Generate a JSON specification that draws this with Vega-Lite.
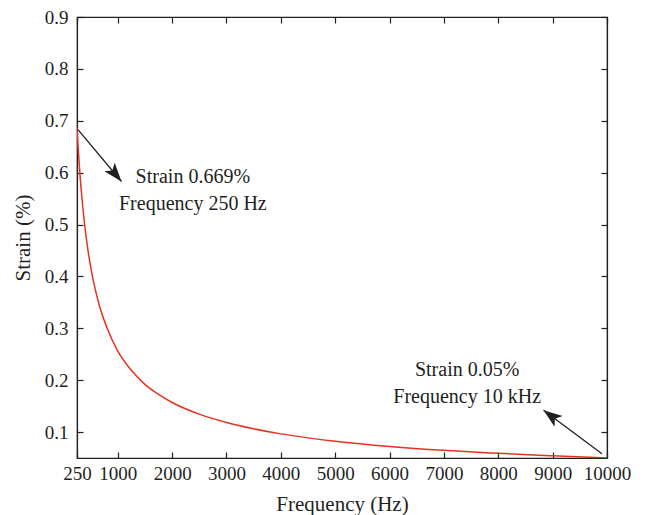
{
  "$schema": "https://vega.github.io/schema/vega-lite/v6.json",
  "autosize": "none",
  "padding": {"left": 77, "top": 17, "right": 38, "bottom": 57},
  "width": 530,
  "height": 441,
  "background": "white",
  "config": {
    "view": {"stroke": "#231f20", "strokeWidth": 1.2},
    "font": "Liberation Serif",
    "axis": {
      "labelFont": "Liberation Serif",
      "titleFont": "Liberation Serif",
      "labelFontSize": 19,
      "titleFontSize": 21,
      "titleFontWeight": "normal",
      "labelColor": "#231f20",
      "titleColor": "#231f20",
      "tickColor": "#231f20",
      "domainColor": "#231f20",
      "domainWidth": 1.2,
      "tickWidth": 1.2,
      "tickSize": -6,
      "grid": false,
      "labelFlush": false,
      "labelOverlap": false
    }
  },
  "datasets": {
    "curve": [
      {"f": 250, "s": 0.686},
      {"f": 270, "s": 0.650},
      {"f": 300, "s": 0.603},
      {"f": 340, "s": 0.552},
      {"f": 390, "s": 0.500},
      {"f": 447, "s": 0.454},
      {"f": 532, "s": 0.401},
      {"f": 656, "s": 0.346},
      {"f": 809, "s": 0.299},
      {"f": 1000, "s": 0.256},
      {"f": 1250, "s": 0.219},
      {"f": 1500, "s": 0.192},
      {"f": 1750, "s": 0.1725},
      {"f": 2000, "s": 0.157},
      {"f": 2500, "s": 0.1345},
      {"f": 3000, "s": 0.1185},
      {"f": 3500, "s": 0.1063},
      {"f": 4000, "s": 0.0965},
      {"f": 4500, "s": 0.0888},
      {"f": 5000, "s": 0.0823},
      {"f": 6000, "s": 0.0722},
      {"f": 7000, "s": 0.0647},
      {"f": 8000, "s": 0.0591},
      {"f": 9000, "s": 0.0543},
      {"f": 10000, "s": 0.050}
    ],
    "arrows": [
      {"f1": 268, "s1": 0.683, "f2": 1068, "s2": 0.583, "angle": 140.3},
      {"f1": 9907, "s1": 0.058, "f2": 8832, "s2": 0.142, "angle": 306.6}
    ],
    "labels": [
      {"f": 2381, "s": 0.580, "text": "Strain 0.669%"},
      {"f": 2381, "s": 0.528, "text": "Frequency 250 Hz"},
      {"f": 7427, "s": 0.2089, "text": "Strain 0.05%"},
      {"f": 7427, "s": 0.1568, "text": "Frequency 10 kHz"}
    ]
  },
  "layer": [
    {
      "data": {"name": "curve"},
      "mark": {"type": "line", "color": "#e6331f", "strokeWidth": 1.5, "interpolate": "monotone", "clip": true},
      "encoding": {
        "x": {
          "field": "f", "type": "quantitative",
          "scale": {"domain": [250, 10000], "nice": false, "zero": false},
          "axis": {
            "orient": "bottom",
            "values": [250, 1000, 2000, 3000, 4000, 5000, 6000, 7000, 8000, 9000, 10000],
            "format": "d",
            "labelPadding": 12,
            "title": "Frequency (Hz)",
            "titleBaseline": "alphabetic",
            "titleY": 52,
            "titleX": 265
          }
        },
        "y": {
          "field": "s", "type": "quantitative",
          "scale": {"domain": [0.05, 0.9], "nice": false, "zero": false},
          "axis": {
            "orient": "left",
            "values": [0.1, 0.2, 0.3, 0.4, 0.5, 0.6, 0.7, 0.8, 0.9],
            "format": ".1f",
            "labelPadding": 15,
            "title": "Strain (%)",
            "titleBaseline": "alphabetic",
            "titleAngle": -90,
            "titleAlign": "center",
            "titleX": -48,
            "titleY": 220.5
          }
        }
      }
    },
    {
      "data": {"name": "curve"},
      "mark": {"type": "line", "strokeOpacity": 0},
      "encoding": {
        "x": {
          "field": "f", "type": "quantitative",
          "axis": {
            "orient": "top",
            "values": [250, 1000, 2000, 3000, 4000, 5000, 6000, 7000, 8000, 9000, 10000],
            "labels": false,
            "title": null
          }
        },
        "y": {
          "field": "s", "type": "quantitative",
          "axis": {
            "orient": "right",
            "values": [0.1, 0.2, 0.3, 0.4, 0.5, 0.6, 0.7, 0.8, 0.9],
            "labels": false,
            "title": null
          }
        }
      }
    },
    {
      "data": {"name": "arrows"},
      "mark": {"type": "rule", "color": "#231f20", "strokeWidth": 1.3},
      "encoding": {
        "x": {"field": "f1", "type": "quantitative", "axis": null},
        "y": {"field": "s1", "type": "quantitative", "axis": null},
        "x2": {"field": "f2"},
        "y2": {"field": "s2"}
      }
    },
    {
      "data": {"name": "arrows"},
      "mark": {"type": "point", "shape": "M0,0L-0.45,1.25L0,0.95L0.45,1.25Z", "filled": true, "color": "#231f20", "opacity": 1, "size": 900, "strokeWidth": 0},
      "encoding": {
        "x": {"field": "f2", "type": "quantitative", "axis": null},
        "y": {"field": "s2", "type": "quantitative", "axis": null},
        "angle": {"field": "angle", "type": "quantitative", "scale": null}
      }
    },
    {
      "data": {"name": "labels"},
      "mark": {"type": "text", "font": "Liberation Serif", "fontSize": 20, "color": "#231f20", "align": "center", "baseline": "alphabetic"},
      "encoding": {
        "x": {"field": "f", "type": "quantitative", "axis": null},
        "y": {"field": "s", "type": "quantitative", "axis": null},
        "text": {"field": "text", "type": "nominal"}
      }
    }
  ],
  "resolve": {"axis": {"x": "independent", "y": "independent"}}
}
